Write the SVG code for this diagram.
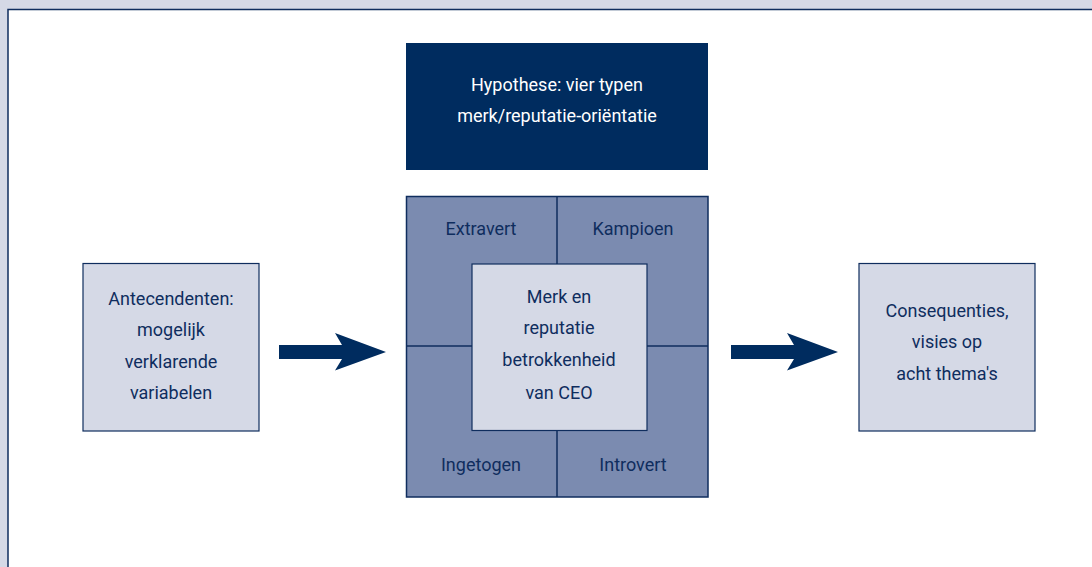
<svg xmlns="http://www.w3.org/2000/svg" width="1092" height="567" viewBox="0 0 1092 567">
<style>
.t{font-family:Roboto,"Liberation Sans",sans-serif;font-size:18px;fill:#0f2d5e;text-anchor:middle}
.w{fill:#ffffff}
.light{fill:#d5d9e6;stroke:#0f2d5e;stroke-width:1.2}
.mid{fill:#7b8bb0;stroke:#0f2d5e;stroke-width:1.5}
.navy{fill:#002c5f}
</style>
<rect x="0" y="0" width="1092" height="567" fill="#d5d9e6"/>
<rect x="8" y="9" width="1084" height="558" fill="#ffffff"/>
<path d="M8,567 V9.5 H1092" fill="none" stroke="#0f2d5e" stroke-width="1.5"/>
<g id="hypothesis">
<rect x="406" y="43" width="302" height="127" class="navy"/>
<text class="t w" x="557" y="91">Hypothese: vier typen</text>
<text class="t w" x="557" y="122">merk/reputatie-oriëntatie</text>
</g>
<g id="grid">
<rect x="406.5" y="196.5" width="301.5" height="300.5" class="mid"/>
<line x1="557" y1="196.5" x2="557" y2="497" stroke="#0f2d5e" stroke-width="1.5"/>
<line x1="406.5" y1="346" x2="708" y2="346" stroke="#0f2d5e" stroke-width="1.5"/>
</g>
<g id="extravert"><text class="t" x="481" y="235">Extravert</text></g>
<g id="kampioen"><text class="t" x="633" y="235">Kampioen</text></g>
<g id="ingetogen"><text class="t" x="481" y="471">Ingetogen</text></g>
<g id="introvert"><text class="t" x="633" y="471">Introvert</text></g>
<g id="center">
<rect x="472" y="264" width="175" height="166.5" class="light"/>
<text class="t" x="559" y="303">Merk en</text>
<text class="t" x="559" y="334">reputatie</text>
<text class="t" x="559" y="366">betrokkenheid</text>
<text class="t" x="559" y="399">van CEO</text>
</g>
<g id="antecedenten">
<rect x="83" y="263.5" width="176" height="167.5" class="light"/>
<text class="t" x="171" y="305">Antecendenten:</text>
<text class="t" x="171" y="336">mogelijk</text>
<text class="t" x="171" y="368">verklarende</text>
<text class="t" x="171" y="399">variabelen</text>
</g>
<g id="consequenties">
<rect x="859" y="263.5" width="176" height="167.5" class="light"/>
<text class="t" x="947" y="317">Consequenties,</text>
<text class="t" x="947" y="348">visies op</text>
<text class="t" x="947" y="380">acht thema's</text>
</g>
<g id="connectors">
<path class="navy" d="M279,345 H342 L335,333 L386,352 L335,370.5 L342,359 H279 Z"/>
<path class="navy" d="M731,345 H794 L787,333 L838,352 L787,370.5 L794,359 H731 Z"/>
</g>
</svg>
